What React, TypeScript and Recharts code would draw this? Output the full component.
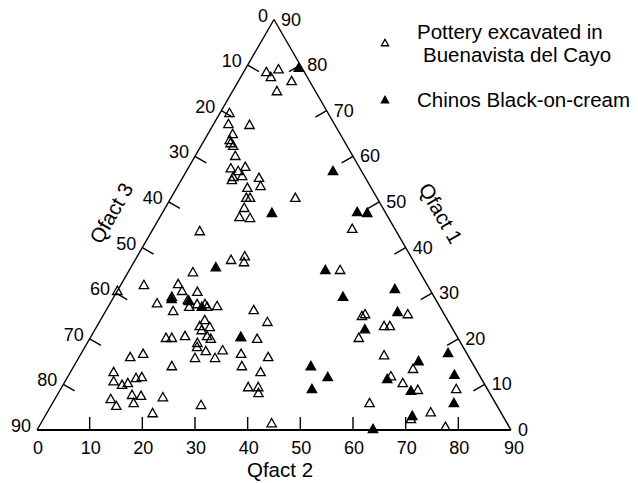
import React from 'react';
import { ScatterChart, Scatter, XAxis, YAxis, ReferenceLine, ReferenceDot, Legend } from 'recharts';

const H = Math.sqrt(3) / 2;
const TOTAL = 90;
const FONT = "'Liberation Sans', Arial, Helvetica, sans-serif";

// Pottery excavated in Buenavista del Cayo (open triangles)
const potteryQfact1 = [
  78.5, 79.1, 77.4, 76.5, 74.3, 69.5, 67.1, 66.9, 64.9, 63.6, 62.9, 62.3, 60.1, 57.4, 56.8, 57.7, 55.7, 54.8, 55.5, 55.3,
  53.5, 53.1, 50.9, 50.9, 50.9, 48.7, 46.7, 46.5, 43.6,
  44.1, 35.1, 25.0, 25.4, 20.2, 22.8, 22.8, 25.4, 16.4, 13.4, 11.8, 10.3, 8.8, 9.0, 5.9, 3.9, 0.7, 2.4,
  37.3, 38.1, 36.8, 34.6, 30.5, 31.8, 32.0, 30.5, 30.3, 27.8, 29.2, 28.5, 27.0, 27.6, 27.6, 27.0, 27.2, 26.1, 26.3, 23.7,
  24.1, 22.8, 22.6, 21.9, 20.6, 20.2, 20.2, 20.6, 19.1, 18.2, 17.3, 17.5, 15.8, 15.8, 20.4, 20.0, 16.7, 16.0, 14.0, 14.0,
  12.7, 9.4, 9.4, 8.1, 5.5, 1.5, 16.0, 16.7, 12.7, 10.7, 9.9, 10.3, 11.4, 11.6, 6.8, 5.3, 7.7, 7.5, 5.9, 7.2, 3.7, 20.0,
];
const potteryQfact2 = [
  4.3, 6.3, 5.7, 10.1, 8.4, 1.8, 2.8, 6.9, 4.7, 4.8, 5.3, 6.1, 7.6, 8.1, 9.8, 10.7, 11.1, 9.6, 9.5, 14.5,
  15.7, 13.4, 14.3, 15.0, 23.6, 15.0, 15.1, 17.2, 9.1,
  37.8, 40.0, 49.2, 49.6, 51.0, 54.5, 55.6, 57.7, 57.7, 64.7, 61.3, 64.3, 67.9, 75.1, 60.2, 72.8, 77.2, 69.8,
  18.2, 20.4, 20.9, 12.3, 0.0, 4.4, 10.8, 12.3, 15.3, 8.9, 11.0, 14.4, 15.4, 16.6, 18.1, 18.8, 20.6, 12.8, 28.0, 31.9,
  19.8, 19.5, 21.5, 20.3, 22.0, 14.4, 15.5, 17.8, 20.9, 21.3, 23.4, 26.5, 22.1, 25.9, 28.5, 31.8, 30.4, 35.9, 18.6, 31.9,
  36.1, 35.4, 37.3, 38.0, 28.4, 43.8, 9.7, 11.8, 8.2, 9.2, 11.2, 12.1, 13.1, 14.1, 10.6, 12.4, 14.2, 16.0, 15.4, 20.3, 20.1, 23.0,
];

// Chinos Black-on-cream (filled triangles)
const chinosQfact1 = [
  79.4, 47.6, 56.8, 47.8, 47.6, 35.1, 29.2, 30.9, 25.9, 22.1, 16.9, 15.1, 14.0, 11.6, 9.0, 11.2, 12.1, 8.6, 5.9, 3.1,
  0.2, 35.7, 28.7, 27.0, 28.3, 20.4,
];
const chinosQfact2 = [
  10.0, 20.8, 27.8, 36.9, 38.9, 37.2, 43.5, 52.5, 55.5, 51.2, 69.6, 64.9, 45.0, 49.4, 47.7, 60.9, 73.2, 66.7, 76.2, 69.7,
  63.7, 16.1, 11.2, 17.8, 14.7, 28.5,
];

const axisLabels = [0, 10, 20, 30, 40, 50, 60, 70, 80, 90];
const tickMarks = [10, 20, 30, 40, 50, 60, 70, 80];
const TICK_LEN = 2.47;

// ternary -> cartesian (x along Qfact 2 base, y up towards Qfact 1 apex)
const toXY = (q1: number, q2: number) => ({ x: q2 + q1 / 2, y: q1 * H });

const potteryData = potteryQfact1.map((q1, i) => toXY(q1, potteryQfact2[i]));
const chinosData = chinosQfact1.map((q1, i) => toXY(q1, chinosQfact2[i]));

// points on each edge for a given axis value
const basePoint = (v: number) => ({ x: v, y: 0 });
const leftPoint = (v: number) => ({ x: (TOTAL - v) / 2, y: (TOTAL - v) * H });
const rightPoint = (v: number) => ({ x: TOTAL - v / 2, y: v * H });

const Tri = ({ cx, cy, filled, s = 4.7 }: any) => (
  <polygon
    points={`${cx},${cy - s} ${cx - s},${cy + s * 0.77} ${cx + s},${cy + s * 0.77}`}
    fill={filled ? '#000' : 'none'}
    stroke="#000"
    strokeWidth={1.3}
  />
);

const label = (text: string, dx: number, dy: number, anchor: string, size = 18, rotate = 0) =>
  (p: any) => (
    <text
      x={p.cx + dx}
      y={p.cy + dy}
      textAnchor={anchor}
      fontSize={size}
      fontFamily={FONT}
      fill="#000"
      transform={rotate ? `rotate(${rotate} ${p.cx + dx} ${p.cy + dy})` : undefined}
    >
      {text}
    </text>
  );

const LegendBox = () => (
  <svg width={266} height={120} style={{ display: 'block' }}>
    <Tri cx={13} cy={43} s={3.6} />
    <text x={45} y={39} fontSize={20.5} fontFamily={FONT}>Pottery excavated in</text>
    <text x={51} y={62} fontSize={20.5} fontFamily={FONT}>Buenavista del Cayo</text>
    <Tri cx={13} cy={100} s={3.6} filled />
    <text x={45} y={107} fontSize={20.5} fontFamily={FONT}>Chinos Black-on-cream</text>
  </svg>
);

const seg = (a: { x: number; y: number }, b: { x: number; y: number }) => [a, b];

export default function App() {
  return (
    <div style={{ position: 'absolute', left: 0, top: 0, background: '#fff' }}>
      <ScatterChart width={638} height={483} margin={{ top: 19.5, right: 127, bottom: 53, left: 37 }}>
        <XAxis type="number" dataKey="x" domain={[0, TOTAL]} hide />
        <YAxis type="number" dataKey="y" domain={[0, TOTAL * H]} hide />

        {/* triangle frame */}
        <ReferenceLine segment={seg(basePoint(0), basePoint(TOTAL))} stroke="#000" strokeWidth={2} ifOverflow="visible" />
        <ReferenceLine segment={seg(leftPoint(0), leftPoint(TOTAL))} stroke="#000" strokeWidth={1.4} ifOverflow="visible" />
        <ReferenceLine segment={seg(rightPoint(0), rightPoint(TOTAL))} stroke="#000" strokeWidth={1.4} ifOverflow="visible" />

        {/* tick marks, pointing inward */}
        {tickMarks.map((v) => (
          <ReferenceLine key={`b${v}`} segment={seg(basePoint(v), { x: v, y: TICK_LEN })} stroke="#000" strokeWidth={1.4} ifOverflow="visible" />
        ))}
        {tickMarks.map((v) => {
          const p = leftPoint(v);
          return (
            <ReferenceLine key={`l${v}`} segment={seg(p, { x: p.x + TICK_LEN * H, y: p.y - TICK_LEN / 2 })} stroke="#000" strokeWidth={1.4} ifOverflow="visible" />
          );
        })}
        {tickMarks.map((v) => {
          const p = rightPoint(v);
          return (
            <ReferenceLine key={`r${v}`} segment={seg(p, { x: p.x - TICK_LEN * H, y: p.y - TICK_LEN / 2 })} stroke="#000" strokeWidth={1.4} ifOverflow="visible" />
          );
        })}

        {/* tick labels */}
        {axisLabels.map((v) => (
          <ReferenceDot key={`bl${v}`} {...basePoint(v)} r={0} ifOverflow="visible" shape={label(String(v), v === TOTAL ? 3 : 1, 24, 'middle')} />
        ))}
        {axisLabels.map((v) => (
          <ReferenceDot key={`ll${v}`} {...leftPoint(v)} r={0} ifOverflow="visible" shape={label(String(v), -6, 2, 'end')} />
        ))}
        {axisLabels.map((v) => (
          <ReferenceDot key={`rl${v}`} {...rightPoint(v)} r={0} ifOverflow="visible" shape={label(String(v), 7, 6, 'start')} />
        ))}

        {/* axis titles */}
        <ReferenceDot {...basePoint(TOTAL / 2)} r={0} ifOverflow="visible" shape={label('Qfact 2', 6, 47, 'middle', 20.5)} />
        <ReferenceDot {...leftPoint(TOTAL / 2)} r={0} ifOverflow="visible" shape={label('Qfact 3', -38, -8, 'middle', 20.5, -60)} />
        <ReferenceDot {...rightPoint(TOTAL / 2)} r={0} ifOverflow="visible" shape={label('Qfact 1', 42, -8, 'middle', 20.5, 60)} />

        <Scatter
          name="Pottery excavated in Buenavista del Cayo"
          data={potteryData}
          isAnimationActive={false}
          shape={(p: any) => <Tri cx={p.cx} cy={p.cy} />}
        />
        <Scatter
          name="Chinos Black-on-cream"
          data={chinosData}
          isAnimationActive={false}
          shape={(p: any) => <Tri cx={p.cx} cy={p.cy} filled />}
        />

        <Legend
          layout="vertical"
          align="center"
          verticalAlign="middle"
          wrapperStyle={{ top: 0, left: 372, width: 266, height: 120 }}
          content={() => <LegendBox />}
        />
      </ScatterChart>
    </div>
  );
}
